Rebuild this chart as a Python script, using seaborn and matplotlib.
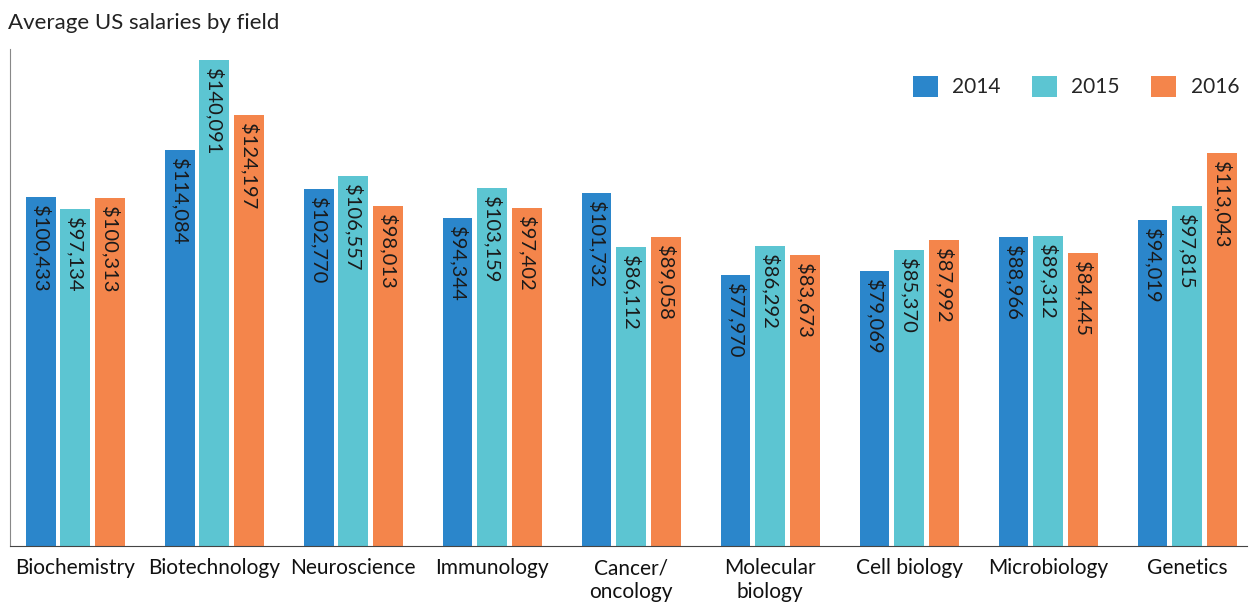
import pandas as pd
import matplotlib.pyplot as plt
import seaborn as sns

fields = ['Biochemistry', 'Biotechnology', 'Neuroscience', 'Immunology', 'Cancer/\noncology',
          'Molecular\nbiology', 'Cell biology', 'Microbiology', 'Genetics']
years = ['2014', '2015', '2016']
sal_2014 = [100433, 114084, 102770, 94344, 101732, 77970, 79069, 88966, 94019]
sal_2015 = [97134, 140091, 106557, 103159, 86112, 86292, 85370, 89312, 97815]
sal_2016 = [100313, 124197, 98013, 97402, 89058, 83673, 87992, 84445, 113043]
colors = ['#2B86CB', '#5CC5D2', '#F4854B']

df = pd.DataFrame({
    'field': fields * 3,
    'year': [y for y in years for _ in fields],
    'salary': sal_2014 + sal_2015 + sal_2016,
})

sns.set_style('white')
plt.rcParams['font.family'] = ['Lato', 'DejaVu Sans']

fig = plt.figure(figsize=(12.57, 6.07), dpi=100)
ax = fig.add_axes([0.008, 0.1005, 0.984, 0.818])
sns.barplot(data=df, x='field', y='salary', hue='year', palette=colors,
            width=0.75, gap=0.14, ax=ax, legend=True, saturation=1, linewidth=0)

for cont in ax.containers:
    for bar in cont:
        h = bar.get_height()
        ax.text(bar.get_x() + bar.get_width() / 2, h - 2300, f'${h:,.0f}',
                rotation=-90, ha='center', va='top', fontsize=14.5, color='#1a1a1a')

ax.set_ylim(0, 143000)
ax.set_xlim(-0.47, 8.43)
ax.set_xlabel('')
ax.set_ylabel('')
ax.set_yticks([])
ax.tick_params(axis='x', length=0, labelsize=15, pad=9, colors='#111111')
ax.set_xticks([i + 0.5 for i in range(8)], minor=True)
ax.tick_params(axis='x', which='minor', direction='in', length=5, color='#888888', width=1)
for s in ['top', 'right']:
    ax.spines[s].set_visible(False)
ax.spines['left'].set_color('#888888')
ax.spines['bottom'].set_color('#444444')

ax.legend(loc='upper right', bbox_to_anchor=(1.009, 0.985), ncol=3, frameon=False,
          fontsize=15, handlelength=1.2, handleheight=1.2, columnspacing=1.5,
          handletextpad=0.7)

fig.text(0.006, 0.962, 'Average US salaries by field', fontsize=16, color='#222222',
         ha='left', va='center')

plt.savefig('out.png', dpi=100)
